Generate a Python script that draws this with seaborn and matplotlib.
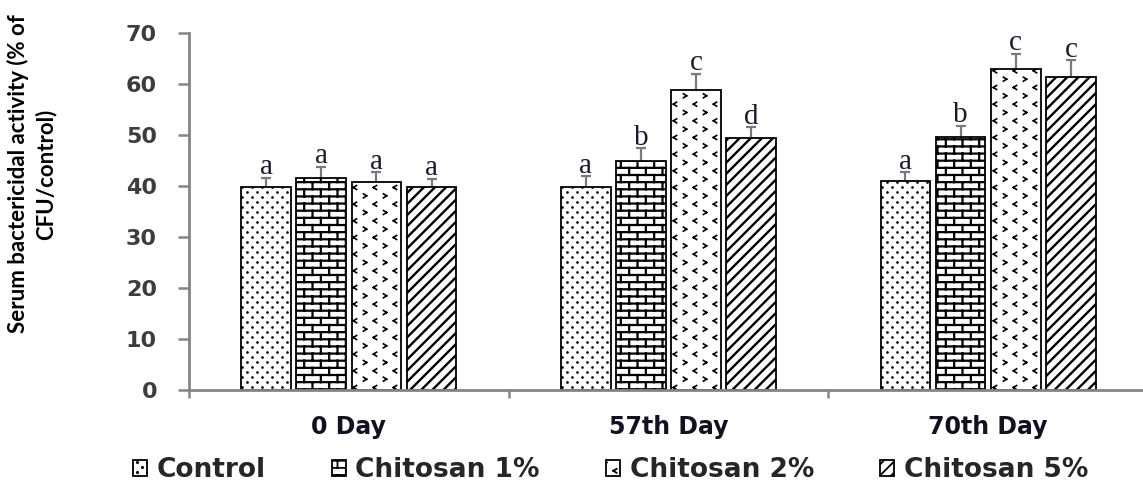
import numpy as np
import pandas as pd
import matplotlib
matplotlib.use("Agg")
import matplotlib.pyplot as plt
import matplotlib.hatch as mhatch
from matplotlib.path import Path
import seaborn as sns

# ---- data -------------------------------------------------------------
days = ["0 Day", "57th Day", "70th Day"]
treatments = ["Control", "Chitosan 1%", "Chitosan 2%", "Chitosan 5%"]

control = [39.8, 39.8, 41.0]
chitosan_1 = [41.5, 44.9, 49.6]
chitosan_2 = [40.8, 58.9, 62.9]
chitosan_5 = [39.9, 49.5, 61.4]

control_err = [1.8, 2.1, 1.7]
chitosan_1_err = [2.3, 2.5, 2.2]
chitosan_2_err = [1.9, 3.1, 3.0]
chitosan_5_err = [1.5, 2.0, 3.3]

control_letters = ["a", "a", "a"]
chitosan_1_letters = ["a", "b", "b"]
chitosan_2_letters = ["a", "c", "c"]
chitosan_5_letters = ["a", "d", "c"]

means = [control, chitosan_1, chitosan_2, chitosan_5]
errors = [control_err, chitosan_1_err, chitosan_2_err, chitosan_5_err]
letters = [control_letters, chitosan_1_letters, chitosan_2_letters, chitosan_5_letters]

df = pd.DataFrame(
    [(d, t, means[i][j]) for i, t in enumerate(treatments) for j, d in enumerate(days)],
    columns=["day", "treatment", "value"],
)


# ---- extra fill patterns (bricks, staggered dots, chevrons) -------------
def _seg(x0, y0, x1, y1):
    return np.array([[x0, y0], [x1, y1]]), [Path.MOVETO, Path.LINETO]


class _PartsHatch(mhatch.HatchPatternBase):
    symbol = ""

    def __init__(self, hatch, density):
        active = bool(hatch) and self.symbol in hatch
        self.parts = self.build() if active else []
        self.num_vertices = sum(len(v) for v, _ in self.parts)

    def build(self):
        return []

    def set_vertices_and_codes(self, vertices, codes):
        k = 0
        for v, c in self.parts:
            n = len(v)
            vertices[k:k + n] = v
            codes[k:k + n] = c
            k += n


class BrickHatch(_PartsHatch):
    symbol = "|"

    def build(self):
        rows, cols = 14, 6
        parts = []
        for i in range(rows):
            y = (i + 0.5) / rows
            parts.append(_seg(0.0, y, 1.0, y))
        for i in range(-1, rows):
            y0, y1 = (i + 0.5) / rows, (i + 1.5) / rows
            shift = 0.5 * (i % 2)
            for j in range(cols):
                x = (j + 0.25 + shift) / cols
                parts.append(_seg(x, y0, x, y1))
        return parts


class DotHatch(_PartsHatch):
    symbol = "."

    def build(self):
        rows, cols, r = 20, 10, 0.0065
        ang = np.linspace(0, 2 * np.pi, 9)[:-1]
        ring = np.column_stack([np.cos(ang), np.sin(ang)]) * r
        codes = [Path.MOVETO] + [Path.LINETO] * 7 + [Path.CLOSEPOLY]
        parts = []
        for i in range(rows):
            y = (i + 0.5) / rows
            shift = 0.5 * (i % 2)
            for j in range(cols):
                x = (j + 0.25 + shift) / cols
                pts = np.vstack([ring + [x, y], [[x, y]]])
                parts.append((pts, codes))
        return parts


class ChevronHatch(_PartsHatch):
    symbol = "*"

    def build(self):
        rows, cols = 12, 5
        w, h = 0.016, 0.02
        parts = []
        for i in range(rows):
            y = (i + 0.5) / rows
            if i % 2 == 0:
                for j in range(cols):
                    x = (j + 0.25) / cols
                    parts.append(_seg(x - w, y + h, x + w, y))
                    parts.append(_seg(x + w, y, x - w, y - h))
            else:
                for j in range(cols):
                    x = (j + 0.75) / cols
                    parts.append(_seg(x + w, y + h, x - w, y))
                    parts.append(_seg(x - w, y, x + w, y - h))
        return parts


_types = mhatch._hatch_types
_types[_types.index(mhatch.VerticalHatch)] = BrickHatch
_types[_types.index(mhatch.SmallFilledCircles)] = DotHatch
_types[_types.index(mhatch.Stars)] = ChevronHatch

patterns = [".", "|", "*", "///"]
hatch_widths = [1.0, 1.6, 1.2, 1.7]

# ---- style ---------------------------------------------------------------
sns.set_style("white")
plt.rcParams["font.family"] = ["DejaVu Sans"]
plt.rcParams["hatch.linewidth"] = 1.3
axis_gray = "#858585"

fig = plt.figure(figsize=(11.43, 4.97), dpi=100)
ax = fig.add_axes([189 / 1143, 1 - 390 / 497, 959 / 1143, 357 / 497])

sns.barplot(
    data=df, x="day", y="value", hue="treatment",
    order=days, hue_order=treatments,
    palette={t: "white" for t in treatments}, saturation=1,
    edgecolor="black", linewidth=1.3,
    width=0.69, gap=0.1, errorbar=None, legend=False, ax=ax,
)
bar_groups = list(ax.containers)

for i, cont in enumerate(bar_groups):
    xs = []
    for p in cont.patches:
        p.set_hatch(patterns[i])
        if hasattr(p, "set_hatch_linewidth"):
            p.set_hatch_linewidth(hatch_widths[i])
        xs.append(p.get_x() + p.get_width() / 2)
    ax.errorbar(xs, means[i], yerr=errors[i], fmt="none", ecolor="#7a7a7a",
                elinewidth=1.6, capsize=3.6, capthick=1.6, zorder=0.5)
    for x, m, e, lab in zip(xs, means[i], errors[i], letters[i]):
        ax.annotate(lab, xy=(x, m + e), xytext=(0, 2.5), textcoords="offset points",
                    ha="center", va="baseline", fontsize=21,
                    fontfamily="Liberation Serif", color="#1a1a2e")

# ---- axes ------------------------------------------------------------------
ax.set_xlim(-0.5, 2.5)
ax.set_ylim(0, 70)
ax.set_yticks(range(0, 71, 10))
ax.set_xticks(range(len(days)), days)
ax.set_xticks([-0.5, 0.5, 1.5, 2.5], minor=True)
ax.set_xlabel("")

sns.despine(ax=ax)
for side in ("left", "bottom"):
    ax.spines[side].set_color(axis_gray)
    ax.spines[side].set_linewidth(2.0)

ax.tick_params(axis="x", which="major", length=0, pad=18, labelsize=17,
               labelcolor="#111122")
ax.tick_params(axis="x", which="minor", length=6, width=1.8, color=axis_gray,
               direction="out", bottom=True)
ax.tick_params(axis="y", length=8, width=1.8, color=axis_gray, direction="out",
               pad=15, labelsize=16, labelcolor="#3d3d3d", left=True)
for lbl in ax.get_xticklabels() + ax.get_yticklabels():
    lbl.set_fontweight("bold")

ax.set_ylabel("Serum bactericidal activity (% of\nCFU/control)",
              fontfamily="Lato", fontweight="bold", fontsize=16,
              color="black", linespacing=1.35)
ax.yaxis.set_label_coords(-0.138, 0.605)

fig.legend(
    handles=[c.patches[0] for c in bar_groups], labels=treatments,
    loc="center", bbox_to_anchor=(0.534, 0.054), ncol=4, frameon=False,
    prop=dict(weight="bold", size=19), handlelength=0.55, handleheight=0.55,
    handletextpad=0.35, columnspacing=2.5,
)

fig.savefig("out.png", dpi=100)
